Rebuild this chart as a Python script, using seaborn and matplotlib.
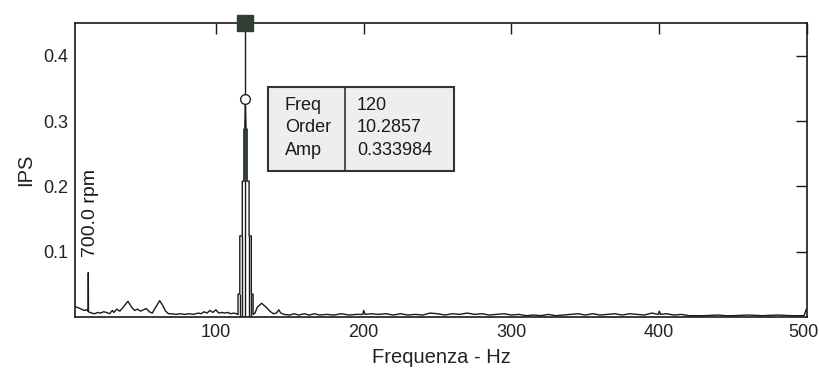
import numpy as np
import pandas as pd
import matplotlib
matplotlib.use("Agg")
import matplotlib.pyplot as plt
from matplotlib.patches import Rectangle
from matplotlib.transforms import ScaledTranslation
import seaborn as sns

# ---------------- data ----------------
low_freq = [4.7, 7, 9, 11, 12.5, 13.6, 13.7, 13.8, 16, 18, 20, 22, 24, 26, 28, 30, 31, 33, 35, 37,
            40.5, 43, 45, 47, 49, 51, 53, 55, 57, 59, 62, 64, 66, 68, 70, 73, 76, 79, 82, 85,
            88, 90, 92, 94, 96, 98, 100, 102, 104, 106, 108, 110, 112, 114]
low_amp = [0.016, 0.014, 0.012, 0.010, 0.011, 0.009, 0.068, 0.008, 0.006, 0.005, 0.007, 0.006,
           0.008, 0.007, 0.005, 0.010, 0.007, 0.012, 0.009, 0.014, 0.024, 0.015, 0.010, 0.012,
           0.009, 0.011, 0.013, 0.008, 0.006, 0.014, 0.025, 0.018, 0.009, 0.005, 0.005, 0.004,
           0.005, 0.004, 0.005, 0.004, 0.006, 0.005, 0.008, 0.006, 0.010, 0.007, 0.011, 0.006,
           0.007, 0.006, 0.007, 0.005, 0.006, 0.005]

peak_freq = [114.6, 115.0, 115.0, 116.2, 116.2, 117.9, 117.9, 119.6, 119.6, 120.0, 120.4,
             120.4, 122.5, 122.5, 124.0, 124.0, 125.2, 125.2, 125.8]
peak_amp = [0.004, 0.004, 0.035, 0.035, 0.124, 0.124, 0.208, 0.208, 0.29, 0.334, 0.29,
            0.208, 0.208, 0.124, 0.124, 0.035, 0.035, 0.004, 0.005]

high_freq = [126.5, 128, 131, 134, 137, 139, 141, 142.5, 144, 146, 150, 153, 156, 160, 163, 167,
             170, 175, 180, 185, 190, 195, 199.5, 200, 201, 205, 210, 215, 220, 225, 230, 235,
             240, 245, 250, 255, 260, 265, 270, 275, 280, 285, 290, 295, 300, 305, 310, 315,
             320, 325, 330, 335, 340, 345, 350, 355, 360, 365, 370, 375, 380, 385, 390, 395,
             399.5, 400, 401, 405, 410, 415, 420, 425, 430, 440, 445, 450, 460, 470, 480, 490,
             498, 499.5]
high_amp = [0.006, 0.015, 0.021, 0.015, 0.008, 0.005, 0.006, 0.011, 0.006, 0.004, 0.003, 0.005,
            0.003, 0.005, 0.003, 0.005, 0.003, 0.004, 0.003, 0.005, 0.003, 0.004, 0.004, 0.010,
            0.004, 0.005, 0.004, 0.005, 0.003, 0.005, 0.003, 0.004, 0.003, 0.006, 0.005, 0.003,
            0.005, 0.004, 0.006, 0.004, 0.005, 0.003, 0.004, 0.005, 0.003, 0.004, 0.002, 0.003,
            0.002, 0.004, 0.002, 0.003, 0.004, 0.005, 0.003, 0.005, 0.003, 0.004, 0.005, 0.003,
            0.005, 0.004, 0.003, 0.006, 0.004, 0.009, 0.004, 0.005, 0.003, 0.004, 0.002, 0.002,
            0.002, 0.003, 0.002, 0.002, 0.003, 0.002, 0.003, 0.002, 0.002, 0.012]

# inner lines of the 120 Hz peak (down to the base)
inner_freq = [116.2, 117.9, 120.0, 122.5, 124.0]
inner_top = [0.035, 0.124, 0.208, 0.124, 0.035]
# thick core of the peak
core_freq = [120.0]
core_low = [0.208]
core_high = [0.29]

cursor_freq = 120
cursor_amp = 0.333984
cursor_order = 10.2857
running_speed = "700.0 rpm"
rpm_freq = 15.5

x_ticks = [100, 200, 300, 400, 500]
y_ticks = [0.1, 0.2, 0.3, 0.4]
y_tick_labels = ["0.1", "0.2", "0.3", "0.4"]

# ---------------- plot ----------------
sns.set_theme(style="white")
plt.rcParams["font.family"] = ["Liberation Sans", "DejaVu Sans"]

fig = plt.figure(figsize=(8.2, 3.74), dpi=100)
ax = fig.add_axes([75 / 820, 57 / 374, 732 / 820, 294 / 374])

freq = low_freq + peak_freq + high_freq
amp = low_amp + peak_amp + high_amp
df = pd.DataFrame({"Freq": freq, "IPS": amp})
sns.lineplot(data=df, x="Freq", y="IPS", sort=False, estimator=None,
             color="#1a1a1a", lw=1.0, ax=ax)

ax.vlines(inner_freq, 0, inner_top, color="#1a1a1a", lw=1.0)
ax.vlines(core_freq, core_low, core_high, color="#2f3f35", lw=3.5)

# cursor
ax.plot([cursor_freq, cursor_freq], [cursor_amp, 0.45], color="#1a1a1a", lw=1.0)
ax.plot([cursor_freq], [0.45], marker="s", ms=11, color="#2f3f35", clip_on=False, zorder=5)
ax.plot([cursor_freq], [cursor_amp], marker="o", ms=7, mfc="white", mec="#222222", mew=1.0,
        zorder=5)

ax.text(rpm_freq, 0.092, running_speed, rotation=90, ha="center", va="bottom",
        fontsize=14, color="#1a1a1a")

ax.set_xlim(4.7, 500)
ax.set_ylim(0, 0.45)
ax.set_xticks(x_ticks)
ax.set_xticklabels([str(t) for t in x_ticks])
ax.set_yticks(y_ticks)
ax.set_yticklabels(y_tick_labels)
ax.tick_params(direction="in", length=8, width=1, top=True, right=True,
               labeltop=False, labelright=False, labelsize=13, pad=5, color="#1a1a1a",
               labelcolor="#222222")
last = ax.get_xticklabels()[-1]
last.set_transform(last.get_transform() + ScaledTranslation(-4 / 100, 0, fig.dpi_scale_trans))
for s in ax.spines.values():
    s.set_color("#1a1a1a")
    s.set_linewidth(1.2)

ax.set_xlabel("Frequenza - Hz", fontsize=14.5, labelpad=5, color="#222222")
ax.set_ylabel("IPS", fontsize=14.5, labelpad=6, color="#222222")

# tooltip box
bx0, by0, bx1, by1 = 268, 87, 454, 171
fig.patches.append(Rectangle((bx0 / 820, 1 - by1 / 374), (bx1 - bx0) / 820, (by1 - by0) / 374,
                             transform=fig.transFigure, facecolor="#eeeeee",
                             edgecolor="#333333", lw=1.5, zorder=10))
fig.add_artist(plt.Line2D([345 / 820, 345 / 820], [1 - by1 / 374, 1 - by0 / 374],
                          transform=fig.transFigure, color="#333333", lw=1.2, zorder=11))
rows = [("Freq", f"{cursor_freq}"), ("Order", f"{cursor_order}"), ("Amp", f"{cursor_amp}")]
for i, (k, v) in enumerate(rows):
    yy = 1 - (105 + 22.5 * i) / 374
    fig.text(285 / 820, yy, k, fontsize=13, va="center", ha="left", color="#1a1a1a", zorder=12)
    fig.text(357 / 820, yy, v, fontsize=13, va="center", ha="left", color="#1a1a1a", zorder=12)

fig.savefig("out.png", dpi=100, facecolor="white")
